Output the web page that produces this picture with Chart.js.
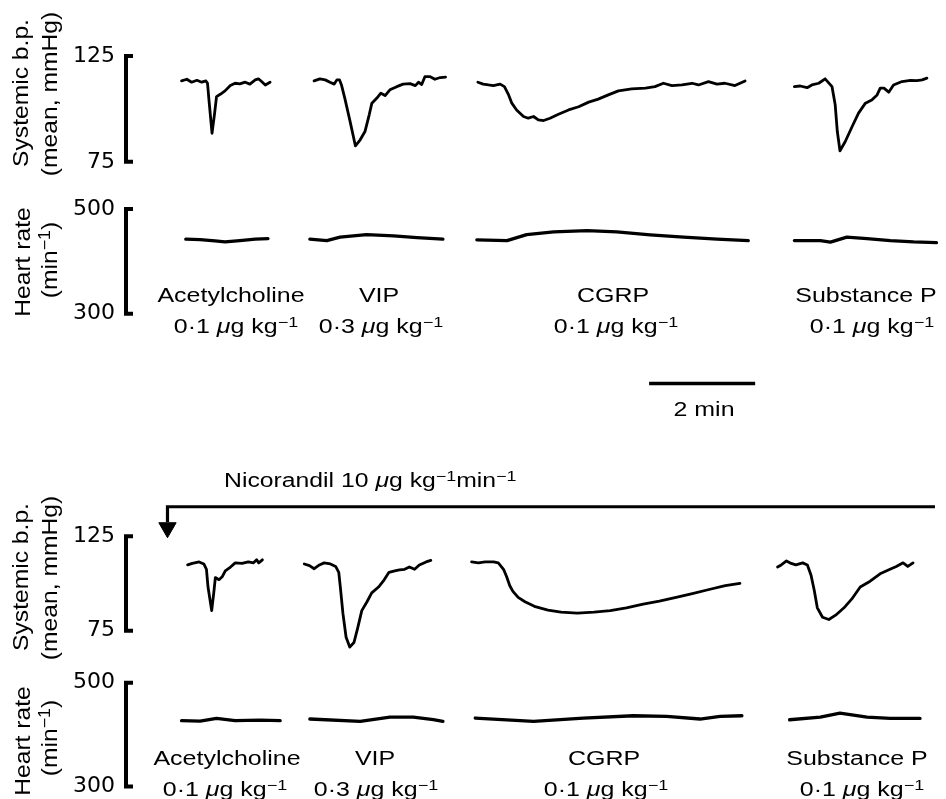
<!DOCTYPE html>
<html>
<head>
<meta charset="utf-8">
<title>Nicorandil responses</title>
<script src="https://cdn.jsdelivr.net/npm/chart.js@4.4.0/dist/chart.umd.min.js"></script>
<style>
  html, body { margin: 0; padding: 0; background: #fff; overflow: hidden; }
  body { width: 946px; height: 799px; position: relative; color: #000;
         font-family: "Liberation Sans", Arial, sans-serif; }
  canvas { position: absolute; left: 0; }
  .h { position: absolute; font-size: 19.5px; line-height: 1; white-space: nowrap;
       transform: translateX(-50%) scaleX(1.28); }
  .v { position: absolute; font-size: 22px; line-height: 1; white-space: nowrap;
       transform: translate(-50%, -50%) rotate(-90deg) scaleX(1.12); }
  .nic { position: absolute; font-size: 19.5px; line-height: 1; white-space: nowrap;
         transform: scaleX(1.27); transform-origin: 0 0; }
  sup { font-size: 0.72em; vertical-align: 0.45em; line-height: 0; }
</style>
</head>
<body>
<canvas id="ctlBP" width="946" height="180" style="top:3px"></canvas>
<canvas id="ctlHR" width="946" height="220" style="top:188px"></canvas>
<canvas id="nicBP" width="946" height="192" style="top:478px"></canvas>
<canvas id="nicHR" width="946" height="135" style="top:662px"></canvas>

<!-- axis titles -->
<div class="v" style="left:21px;top:93px">Systemic b.p.</div>
<div class="v" style="left:50px;top:94px">(mean, mmHg)</div>
<div class="v" style="left:23px;top:262px">Heart rate</div>
<div class="v" style="left:50px;top:260px">(min<sup>−1</sup>)</div>
<div class="v" style="left:21px;top:577px">Systemic b.p.</div>
<div class="v" style="left:50px;top:578px">(mean, mmHg)</div>
<div class="v" style="left:23px;top:741px">Heart rate</div>
<div class="v" style="left:50px;top:738px">(min<sup>−1</sup>)</div>

<!-- drug labels, control -->
<div class="h" style="left:231px;top:285.5px">Acetylcholine</div>
<div class="h" style="left:236px;top:316.5px">0·1 <i>μ</i>g kg<sup>−1</sup></div>
<div class="h" style="left:379px;top:285.5px">VIP</div>
<div class="h" style="left:381px;top:316.5px">0·3 <i>μ</i>g kg<sup>−1</sup></div>
<div class="h" style="left:613px;top:285.5px">CGRP</div>
<div class="h" style="left:616px;top:316.5px">0·1 <i>μ</i>g kg<sup>−1</sup></div>
<div class="h" style="left:866px;top:285.5px">Substance P</div>
<div class="h" style="left:872px;top:316.5px">0·1 <i>μ</i>g kg<sup>−1</sup></div>

<div class="h" style="left:704px;top:399.5px">2 min</div>

<div class="nic" style="left:224px;top:470.5px">Nicorandil 10 <i>μ</i>g kg<sup>−1</sup>min<sup>−1</sup></div>

<!-- drug labels, during nicorandil -->
<div class="h" style="left:227px;top:748.5px">Acetylcholine</div>
<div class="h" style="left:225px;top:779.5px">0·1 <i>μ</i>g kg<sup>−1</sup></div>
<div class="h" style="left:375px;top:748.5px">VIP</div>
<div class="h" style="left:376px;top:779.5px">0·3 <i>μ</i>g kg<sup>−1</sup></div>
<div class="h" style="left:604px;top:748.5px">CGRP</div>
<div class="h" style="left:606px;top:779.5px">0·1 <i>μ</i>g kg<sup>−1</sup></div>
<div class="h" style="left:857px;top:748.5px">Substance P</div>
<div class="h" style="left:862px;top:779.5px">0·1 <i>μ</i>g kg<sup>−1</sup></div>

<script>
// time in minutes from the left edge of the trace area
const X_MAX = 15.43;

// ── control record: mean systemic b.p. (mmHg) ──
const ctlAchT  = [1.01, 1.11, 1.20, 1.30, 1.39, 1.47, 1.50, 1.53, 1.585, 1.63, 1.67, 1.74, 1.83, 1.93, 2.02, 2.11, 2.21, 2.30, 2.40, 2.46, 2.52, 2.59, 2.68];
const ctlAchBP = [113.2, 114.0, 112.6, 113.5, 112.6, 113.2, 112.1, 103.4, 88.5, 97.2, 105.8, 106.9, 108.5, 111.0, 112.1, 111.8, 112.6, 111.7, 113.7, 114.2, 112.9, 111.3, 112.6];

const ctlVipT  = [3.51, 3.62, 3.72, 3.81, 3.89, 3.94, 3.99, 4.03, 4.09, 4.19, 4.29, 4.38, 4.47, 4.55, 4.60, 4.69, 4.77, 4.85, 4.94, 5.07, 5.19, 5.32, 5.42, 5.48, 5.54, 5.60, 5.70, 5.79, 5.89, 5.99];
const ctlVipBP = [113.2, 114.2, 113.7, 112.6, 111.7, 113.7, 113.7, 111.0, 105.0, 94.0, 82.5, 85.4, 89.3, 97.2, 102.7, 105.0, 107.4, 106.3, 109.0, 110.5, 111.7, 111.9, 111.0, 112.6, 111.5, 115.2, 115.2, 114.0, 114.8, 115.0];

const ctlCgrpT  = [6.60, 6.70, 6.80, 6.89, 7.02, 7.10, 7.18, 7.24, 7.33, 7.46, 7.55, 7.65, 7.74, 7.84, 7.96, 8.12, 8.31, 8.50, 8.69, 8.87, 9.06, 9.25, 9.50, 9.76, 9.94, 10.10, 10.26, 10.45, 10.64, 10.76, 10.95, 11.11, 11.26, 11.45, 11.64];
const ctlCgrpBP = [112.6, 111.7, 111.3, 111.0, 111.7, 110.5, 106.6, 102.7, 99.5, 96.4, 95.6, 96.4, 94.8, 94.5, 95.6, 97.5, 99.5, 101.0, 103.2, 104.6, 106.6, 108.5, 109.4, 109.8, 110.5, 112.1, 111.0, 111.3, 112.1, 111.3, 112.9, 111.7, 112.1, 111.0, 113.2];

const ctlSubpT  = [12.57, 12.68, 12.81, 12.90, 13.03, 13.15, 13.28, 13.34, 13.38, 13.43, 13.53, 13.66, 13.78, 13.91, 14.03, 14.13, 14.19, 14.26, 14.35, 14.44, 14.60, 14.76, 14.88, 14.98, 15.07];
const ctlSubpBP = [110.5, 110.8, 110.0, 111.3, 112.1, 114.2, 110.5, 101.9, 89.3, 80.2, 84.6, 91.7, 98.0, 102.7, 104.2, 106.6, 109.8, 109.8, 107.9, 111.3, 112.9, 113.5, 113.3, 113.7, 114.5];

// ── control record: heart rate (min-1) ──
const ctlAchHrT  = [1.09, 1.36, 1.64, 1.83, 2.11, 2.40, 2.64];
const ctlAchHR   = [442.3, 441.5, 439.0, 437.1, 439.6, 442.3, 443.4];
const ctlVipHrT  = [3.43, 3.75, 4.00, 4.50, 5.01, 5.45, 5.94];
const ctlVipHR   = [442.3, 439.6, 446.1, 451.0, 448.6, 445.3, 442.3];
const ctlCgrpHrT = [6.58, 7.15, 7.52, 8.03, 8.66, 9.22, 9.85, 10.48, 11.11, 11.70];
const ctlCgrpHR  = [441.0, 439.6, 451.0, 456.2, 458.7, 456.2, 450.5, 446.1, 442.3, 439.6];
const ctlSubpHrT = [12.57, 13.06, 13.25, 13.56, 13.94, 14.38, 14.82, 15.25];
const ctlSubpHR  = [439.6, 439.6, 436.6, 446.1, 443.4, 439.6, 437.1, 435.8];

// ── during nicorandil: mean systemic b.p. (mmHg) ──
const nicAchT  = [1.14, 1.23, 1.36, 1.45, 1.50, 1.53, 1.60, 1.64, 1.67, 1.74, 1.80, 1.86, 1.96, 2.05, 2.18, 2.30, 2.40, 2.46, 2.50, 2.57];
const nicAchBP = [109.8, 110.6, 111.4, 110.3, 107.5, 98.1, 85.6, 95.0, 103.1, 102.0, 103.5, 106.7, 108.7, 110.9, 110.6, 111.4, 110.9, 112.5, 110.9, 112.5];

const nicVipT  = [3.37, 3.47, 3.56, 3.66, 3.75, 3.87, 3.97, 4.03, 4.06, 4.11, 4.17, 4.24, 4.32, 4.39, 4.47, 4.57, 4.66, 4.79, 4.88, 4.99, 5.10, 5.19, 5.29, 5.38, 5.48, 5.57, 5.70, 5.79];
const nicVipBP = [110.3, 109.4, 107.8, 109.8, 110.9, 110.3, 109.0, 105.9, 98.1, 84.0, 71.5, 66.3, 68.7, 76.2, 85.6, 90.3, 95.0, 98.1, 101.2, 105.9, 106.7, 107.2, 107.5, 108.7, 107.5, 109.8, 111.4, 112.2];

const nicCgrpT  = [6.57, 6.70, 6.83, 6.99, 7.08, 7.18, 7.24, 7.30, 7.36, 7.46, 7.59, 7.77, 8.03, 8.28, 8.59, 8.91, 9.22, 9.53, 9.85, 10.16, 10.48, 10.79, 11.11, 11.42, 11.70];
const nicCgrpBP = [111.4, 110.9, 111.4, 111.4, 110.9, 107.5, 103.5, 98.8, 95.8, 92.6, 90.3, 87.9, 85.9, 84.8, 84.3, 84.8, 85.6, 87.1, 89.0, 90.6, 92.6, 94.6, 96.8, 98.8, 100.0];

const nicSubpT  = [12.42, 12.49, 12.59, 12.68, 12.77, 12.90, 12.99, 13.06, 13.12, 13.18, 13.28, 13.40, 13.53, 13.69, 13.84, 14.00, 14.19, 14.38, 14.57, 14.69, 14.82, 14.91, 15.01];
const nicSubpBP = [108.7, 109.8, 111.9, 110.6, 109.8, 110.9, 109.8, 104.3, 96.5, 87.1, 82.1, 80.9, 83.2, 87.1, 91.8, 98.1, 101.2, 105.1, 107.5, 109.0, 110.9, 109.0, 110.9];

// ── during nicorandil: heart rate (min-1) ──
const nicAchHrT  = [1.01, 1.36, 1.67, 2.02, 2.49, 2.87];
const nicAchHR   = [427.0, 426.0, 431.5, 427.0, 428.0, 427.0];
const nicVipHrT  = [3.43, 4.38, 4.94, 5.38, 5.76, 5.94];
const nicVipHR   = [430.2, 425.6, 434.0, 434.0, 428.8, 425.6];
const nicCgrpHrT = [6.55, 7.65, 8.59, 9.53, 10.16, 10.79, 11.17, 11.58];
const nicCgrpHR  = [432.1, 425.6, 432.1, 436.5, 435.2, 430.2, 435.2, 436.5];
const nicSubpHrT = [12.48, 13.06, 13.43, 13.94, 14.38, 14.94];
const nicSubpHR  = [428.8, 434.0, 441.7, 434.0, 431.3, 431.3];

// axis brackets (tick values) for each record
const bpTicks = [75, 125];
const hrTicks = [300, 500];

// 2 min time bar and nicorandil infusion arrow
const scaleBarT = [9.83, 11.83];
const SCALE_BAR_HR = 167;
const nicArrowT  = [15.6, 0.755, 0.755];
const nicArrowBP = [140.6, 140.6, 132.5];
const NIC_HEAD_BP = 129.5;

function pts(t, v) {
  return t.map((x, i) => ({ x: x, y: v[i] }));
}

function trace(t, v, w) {
  return {
    data: pts(t, v),
    borderColor: '#000',
    borderWidth: w || 2.8,
    pointRadius: 0,
    tension: 0,
    fill: false,
    borderJoinStyle: 'round',
    borderCapStyle: 'round'
  };
}

// the black bracket on the y axis, between the two tick values
const bracketPlugin = {
  id: 'bracket',
  afterDraw(chart) {
    const s = chart.scales.y;
    const ctx = chart.ctx;
    const x = chart.chartArea.left - 2;
    const yTop = s.getPixelForValue(s.ticks[s.ticks.length - 1].value);
    const yBot = s.getPixelForValue(s.ticks[0].value);
    ctx.save();
    ctx.strokeStyle = '#000';
    ctx.lineWidth = 4;
    ctx.lineJoin = 'miter';
    ctx.beginPath();
    ctx.moveTo(x + 7, yTop);
    ctx.lineTo(x, yTop);
    ctx.lineTo(x, yBot);
    ctx.lineTo(x + 7, yBot);
    ctx.stroke();
    ctx.restore();
  }
};

function makeChart(id, yMin, yMax, ticks, datasets) {
  return new Chart(document.getElementById(id), {
    type: 'line',
    data: { datasets: datasets },
    options: {
      responsive: false,
      animation: false,
      events: [],
      layout: { padding: 0 },
      plugins: { legend: { display: false }, tooltip: { enabled: false } },
      scales: {
        x: { type: 'linear', min: 0, max: X_MAX, display: false },
        y: {
          min: yMin,
          max: yMax,
          afterBuildTicks: s => { s.ticks = ticks.map(v => ({ value: v })); },
          afterFit: s => { s.width = 128; s.paddingTop = 0; s.paddingBottom = 0; },
          ticks: {
            color: '#000',
            padding: 13,
            font: { family: "'DejaVu Sans'", size: 22 }
          },
          grid: { display: false, drawTicks: false },
          border: { display: false }
        }
      }
    },
    plugins: [bracketPlugin]
  });
}

// control
makeChart('ctlBP', 65, 150, bpTicks, [
  trace(ctlAchT, ctlAchBP),
  trace(ctlVipT, ctlVipBP),
  trace(ctlCgrpT, ctlCgrpBP),
  trace(ctlSubpT, ctlSubpBP)
]);

const scaleBar = trace(scaleBarT, scaleBarT.map(() => SCALE_BAR_HR), 3.5);
scaleBar.borderCapStyle = 'butt';
makeChart('ctlHR', 120, 540, hrTicks, [
  trace(ctlAchHrT, ctlAchHR, 3.3),
  trace(ctlVipHrT, ctlVipHR, 3.3),
  trace(ctlCgrpHrT, ctlCgrpHR, 3.3),
  trace(ctlSubpHrT, ctlSubpHR, 3.3),
  scaleBar
]);

// during nicorandil infusion
const arrowLine = trace(nicArrowT, nicArrowBP, 3.2);
arrowLine.borderJoinStyle = 'miter';
arrowLine.borderCapStyle = 'butt';
makeChart('nicBP', 60, 150, bpTicks, [
  trace(nicAchT, nicAchBP),
  trace(nicVipT, nicVipBP),
  trace(nicCgrpT, nicCgrpBP),
  trace(nicSubpT, nicSubpBP),
  arrowLine,
  {
    data: [{ x: nicArrowT[1], y: NIC_HEAD_BP }],
    showLine: false,
    pointStyle: 'triangle',
    pointRotation: 180,
    pointRadius: 10,
    pointBackgroundColor: '#000',
    pointBorderColor: '#000',
    pointBorderWidth: 1
  }
]);

makeChart('nicHR', 280, 540, hrTicks, [
  trace(nicAchHrT, nicAchHR, 3.3),
  trace(nicVipHrT, nicVipHR, 3.3),
  trace(nicCgrpHrT, nicCgrpHR, 3.3),
  trace(nicSubpHrT, nicSubpHR, 3.3)
]);
</script>
</body>
</html>
